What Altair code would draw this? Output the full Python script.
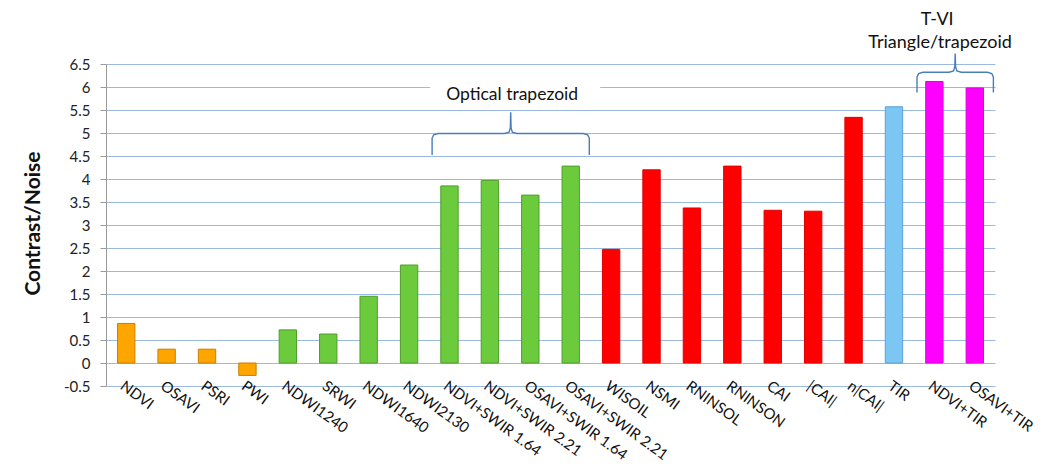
import altair as alt
import pandas as pd

names = ["NDVI", "OSAVI", "PSRI", "PWI", "NDWI1240", "SRWI", "NDWI1640", "NDWI2130",
         "NDVI+SWIR 1.64", "NDVI+SWIR 2.21", "OSAVI+SWIR 1.64", "OSAVI+SWIR 2.21",
         "WISOIL", "NSMI", "RNINSOL", "RNINSON", "CAI", "|CAI|", "n|CAI|", "TIR",
         "NDVI+TIR", "OSAVI+TIR"]
values = [0.86, 0.30, 0.30, -0.27, 0.72, 0.63, 1.45, 2.13,
          3.85, 3.97, 3.65, 4.28,
          2.47, 4.20, 3.37, 4.28, 3.32, 3.30, 5.34, 5.57,
          6.12, 5.98]
groups = ["ref"] * 4 + ["opt"] * 8 + ["soil"] * 7 + ["tir"] + ["tvi"] * 2
fills = {"ref": "#FFA500", "opt": "#6CCB3C", "soil": "#FF0000", "tir": "#7CC6F4", "tvi": "#FF00FF"}
edges = {"ref": "#C97F00", "opt": "#4F9E2A", "soil": "#E00000", "tir": "#5AA2D6", "tvi": "#E000E0"}
y_ticks = [-0.5, 0, 0.5, 1, 1.5, 2, 2.5, 3, 3.5, 4, 4.5, 5, 5.5, 6, 6.5]

df = pd.DataFrame({
    "name": names,
    "value": values,
    "fill": [fills[g] for g in groups],
    "edge": [edges[g] for g in groups],
})

N = len(names)
W, H = 889, 322
FONT = "Lato"
ydom = alt.Scale(domain=[-0.5, 6.5], nice=False, zero=False)
xq = alt.Scale(domain=[0, N], nice=False, zero=False)

bars = alt.Chart(df).mark_bar(strokeWidth=1).encode(
    x=alt.X("name:N", sort=None, title=None,
            scale=alt.Scale(paddingInner=0.57, paddingOuter=0.285),
            axis=alt.Axis(labelAngle=36, labelAlign="left", labelBaseline="top",
                          labelPadding=-8, ticks=False, domain=False, grid=False,
                          labelFont=FONT, labelFontSize=15, labelColor="#111",
                          labelOverlap=False, labelBound=False)),
    y=alt.Y("value:Q", scale=ydom, title="Contrast/Noise",
            axis=alt.Axis(values=y_ticks, labelExpr="'' + datum.value",
                          labelOverlap=False, tickCount=15,
                          grid=True, gridColor="#9CB9E0", gridWidth=1,
                          domainColor="#9A9A9A", tickColor="#9A9A9A", tickSize=6,
                          labelPadding=10, labelFont=FONT, labelFontSize=15,
                          labelColor="#222",
                          titleFont=FONT, titleFontSize=21, titleFontWeight="bold",
                          titleColor="#111", titleAngle=-90, titleX=-73, titleY=159,
                          titleAlign="center", titleBaseline="middle")),
    fill=alt.Fill("fill:N", scale=None),
    stroke=alt.Stroke("edge:N", scale=None),
)

brace_starts = [8.07, 20.07]
brace_ends = [11.96, 21.96]
brace_bases = [4.52, 5.88]
brace_mids = [4.99, 6.32]
brace_tips = [5.45, 6.73]


def brace_points(bid, x0, x1, yb, ym, yt):
    xm = (x0 + x1) / 2
    left = [(x0, yb), (x0, ym - 0.1), (x0 + 0.04, ym - 0.03), (x0 + 0.15, ym),
            (xm - 0.15, ym), (xm - 0.04, ym + 0.03), (xm - 0.01, ym + 0.12), (xm, yt)]
    right = [(2 * xm - px, py) for px, py in reversed(left[:-1])]
    pts = left + right
    return [{"bid": bid, "i": i, "bx": px, "by": py} for i, (px, py) in enumerate(pts)]


rows = []
for k in range(len(brace_starts)):
    rows += brace_points(k, brace_starts[k], brace_ends[k], brace_bases[k], brace_mids[k], brace_tips[k])
bdf = pd.DataFrame(rows)

braces = alt.Chart(bdf).mark_line(color="#4A7EBB", strokeWidth=1.4).encode(
    x=alt.X("bx:Q", scale=xq, axis=None),
    y=alt.Y("by:Q", scale=ydom),
    detail="bid:N",
    order="i:Q",
)

box_df = pd.DataFrame({"x0": [8.02], "x1": [12.23], "y0": [5.6], "y1": [6.12]})
box = alt.Chart(box_df).mark_rect(color="white").encode(
    x=alt.X("x0:Q", scale=xq, axis=None), x2="x1:Q",
    y=alt.Y("y0:Q", scale=ydom), y2="y1:Q",
)

label_text = ["Optical trapezoid", "T-VI", "Triangle/trapezoid"]
label_x = [10.05, 20.57, 20.64]
label_y = [5.82, 7.46, 6.95]
label_size = [17.5, 18, 18]
tdf = pd.DataFrame({"t": label_text, "lx": label_x, "ly": label_y, "fs": label_size})
texts = alt.Chart(tdf).mark_text(font=FONT, color="#111", align="center", baseline="middle").encode(
    x=alt.X("lx:Q", scale=xq, axis=None),
    y=alt.Y("ly:Q", scale=ydom),
    text="t:N",
    size=alt.Size("fs:Q", scale=None, legend=None),
)

chart = alt.layer(bars, box, braces, texts).resolve_scale(x="independent").properties(
    width=W, height=H,
    autosize=alt.AutoSizeParams(type="none"),
    padding={"left": 98, "top": 56, "right": 48, "bottom": 74},
    background="white",
).configure_view(stroke=None)

chart.save("out.html", embed_options={"renderer": "svg", "actions": False})
